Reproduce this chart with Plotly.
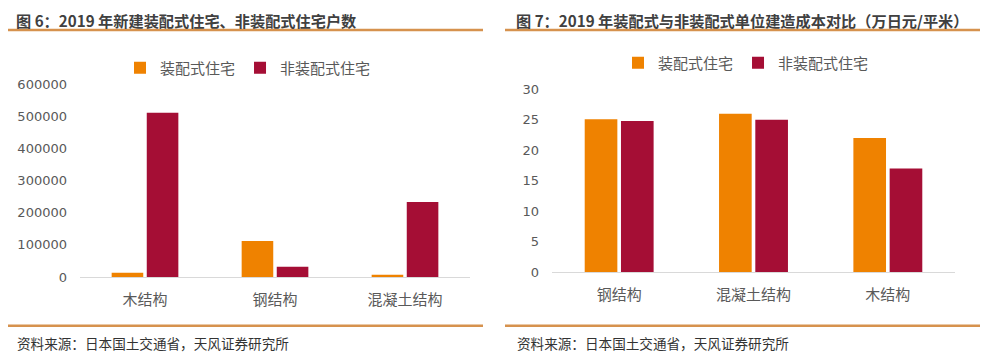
import plotly.graph_objects as go

# The page places the figure 8px in from the top-left corner, so the figure is
# 8px smaller than the window and reference pixel positions are shifted by 8.
OFF = 8
W, H = 988 - OFF, 357 - OFF

# ---- data ----
left_categories = ["木结构", "钢结构", "混凝土结构"]
left_prefab = [13000, 112000, 7000]
left_nonprefab = [511000, 32000, 233000]

right_categories = ["钢结构", "混凝土结构", "木结构"]
right_prefab = [25.1, 26.0, 22.0]
right_nonprefab = [24.8, 25.0, 17.0]

series_names = ["装配式住宅", "非装配式住宅"]
left_title = "图 6：2019 年新建装配式住宅、非装配式住宅户数"
right_title = "图 7：2019 年装配式与非装配式单位建造成本对比（万日元/平米）"
source_text = "资料来源：日本国土交通省，天风证券研究所"

ORANGE = "#EF8200"
RED = "#A50E35"
LINE = "#D6924E"
CJK = "Noto Sans CJK SC"
TICKFONT = dict(family="DejaVu Sans, " + CJK, size=13, color="#595959")


def px(x):
    return (x - OFF) / W


def py(y):
    return 1 - (y - OFF) / H


fig = go.Figure()
fig.add_trace(go.Bar(x=left_categories, y=left_prefab, name=series_names[0],
                     marker_color=ORANGE, xaxis="x", yaxis="y", legend="legend"))
fig.add_trace(go.Bar(x=left_categories, y=left_nonprefab, name=series_names[1],
                     marker_color=RED, xaxis="x", yaxis="y", legend="legend"))
fig.add_trace(go.Bar(x=right_categories, y=right_prefab, name=series_names[0],
                     marker_color=ORANGE, xaxis="x2", yaxis="y2", legend="legend2"))
fig.add_trace(go.Bar(x=right_categories, y=right_nonprefab, name=series_names[1],
                     marker_color=RED, xaxis="x2", yaxis="y2", legend="legend2"))

xcommon = dict(showgrid=False, showline=True, linecolor="#D9D9D9", linewidth=1,
               ticks="", tickfont=dict(family=CJK, size=15, color="#595959"),
               ticklabelstandoff=9, fixedrange=True, automargin=False)
ycommon = dict(showgrid=False, showline=False, zeroline=False, ticks="",
               tickfont=TICKFONT, ticklabelstandoff=12, fixedrange=True,
               automargin=False)

legend_common = dict(orientation="h", yanchor="middle", xanchor="center",
                     font=dict(family=CJK, size=15, color="#595959"),
                     bgcolor="rgba(0,0,0,0)", itemclick=False, itemwidth=30,
                     tracegroupgap=0)

fig.update_layout(
    template="none",
    width=W, height=H,
    margin=dict(l=0, r=0, t=0, b=0, pad=0, autoexpand=False),
    paper_bgcolor="white", plot_bgcolor="white",
    barmode="group", bargap=0.46, bargroupgap=0.1,
    showlegend=True,
    xaxis=dict(domain=[px(80), px(470)], anchor="y", **xcommon),
    yaxis=dict(domain=[py(277), py(84)], anchor="x", range=[0, 600000],
               tickvals=[0, 100000, 200000, 300000, 400000, 500000, 600000],
               tickformat="d", **ycommon),
    xaxis2=dict(domain=[px(552), px(955)], anchor="y2", **xcommon),
    yaxis2=dict(domain=[py(272), py(89.3)], anchor="x2", range=[0, 30],
                tickvals=[0, 5, 10, 15, 20, 25, 30], **ycommon),
    legend=dict(x=px(248), y=py(68), **legend_common),
    legend2=dict(x=px(746), y=py(63), **legend_common),
)

shapes = []
for x0, x1 in [(8, 483), (505, 983)]:
    for yy in (30, 325.7):
        shapes.append(dict(type="line", xref="paper", yref="paper",
                           x0=px(x0), x1=px(x1), y0=py(yy), y1=py(yy),
                           line=dict(color=LINE, width=2.5)))
fig.update_layout(shapes=shapes)

annotations = [
    dict(text="<b>" + left_title + "</b>", x=px(15), y=1.0),
    dict(text="<b>" + right_title + "</b>", x=px(515), y=1.0),
]
for a in annotations:
    a.update(xref="paper", yref="paper", xanchor="left", yanchor="top",
             borderpad=0, showarrow=False,
             font=dict(family=CJK, size=15.2, color="#404040"))
for xx in (15, 515):
    annotations.append(dict(text=source_text, x=px(xx), y=py(343), xref="paper",
                            yref="paper", xanchor="left", yanchor="middle",
                            showarrow=False,
                            font=dict(family=CJK, size=13.6, color="#333333")))
fig.update_layout(annotations=annotations)

fig.write_html("out.html")
